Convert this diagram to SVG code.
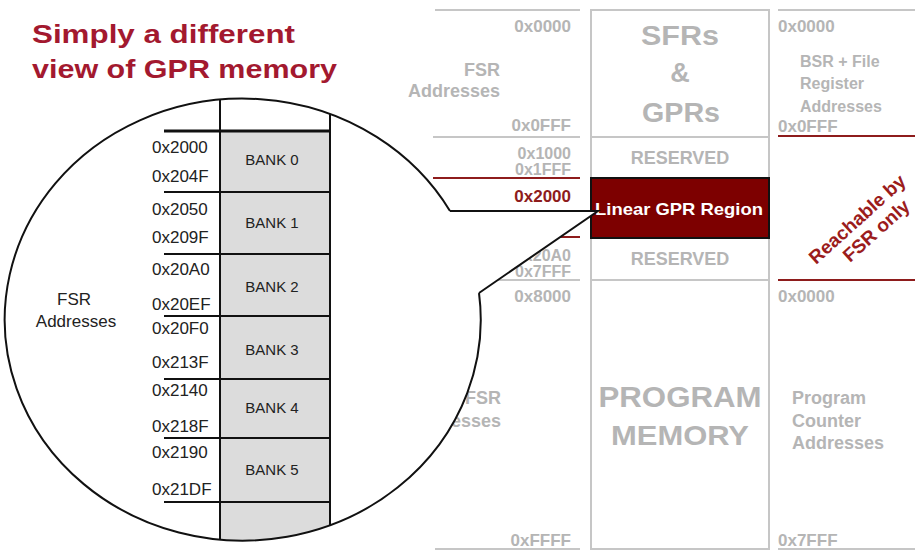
<svg xmlns="http://www.w3.org/2000/svg" width="915" height="551" viewBox="0 0 915 551">
<defs>
<style>
text{font-family:"Liberation Sans",Arial,Helvetica,sans-serif}
.title{font-size:26px;font-weight:bold;fill:#a3192f}
.addr{font-size:17px;fill:#222}
.bank{font-size:15px;fill:#222;text-anchor:middle}
.g{fill:#b5b5b5;font-weight:bold}
.ghex{font-size:17px}
.sm{font-size:16px}
.r{text-anchor:end}
.m{text-anchor:middle}
.gl{stroke:#c6c6c6;stroke-width:2;fill:none}
.rl{stroke:#8e1c1c;stroke-width:2;fill:none}
.box{fill:#fff;stroke:#c6c6c6;stroke-width:2}
.bl{stroke:#111;stroke-width:2;fill:none}
</style>
<clipPath id="lens"><ellipse cx="243" cy="320" rx="238" ry="221"/></clipPath>
</defs>
<rect width="915" height="551" fill="#fff"/>

<g id="title">
<text class="title" x="32" y="43" textLength="263" lengthAdjust="spacingAndGlyphs">Simply a different</text>
<text class="title" x="32" y="78" textLength="305" lengthAdjust="spacingAndGlyphs">view of GPR memory</text>
</g>

<g id="fsr-column">
<line class="gl" x1="435" y1="10" x2="580" y2="10"/>
<line class="gl" x1="433" y1="137" x2="580" y2="137"/>
<line class="rl" x1="433" y1="178" x2="580" y2="178"/>
<line class="rl" x1="435" y1="237" x2="580" y2="237"/>
<line class="gl" x1="435" y1="280" x2="580" y2="280"/>
<line class="gl" x1="435" y1="549" x2="580" y2="549"/>
<text class="g ghex r" x="571" y="32">0x0000</text>
<text class="g r" x="500" y="76" font-size="18">FSR</text>
<text class="g r" x="500" y="97" font-size="18">Addresses</text>
<text class="g ghex r" x="571" y="131">0x0FFF</text>
<text class="g sm r" x="571" y="159">0x1000</text>
<text class="g sm r" x="571" y="175">0x1FFF</text>
<text class="ghex r" x="571" y="202" font-weight="bold" fill="#8e1c1c">0x2000</text>
<text class="g sm r" x="571" y="261">0x20A0</text>
<text class="g sm r" x="571" y="277">0x7FFF</text>
<text class="g ghex r" x="571" y="302">0x8000</text>
<text class="g r" x="501" y="404" font-size="18">FSR</text>
<text class="g r" x="501" y="427" font-size="18">Addresses</text>
<text class="g ghex r" x="571" y="546">0xFFFF</text>
</g>

<g id="memory-column">
<rect class="box" x="591" y="10" width="178" height="127"/>
<rect class="box" x="591" y="137" width="178" height="41"/>
<rect class="box" x="591" y="238" width="178" height="42"/>
<rect class="box" x="591" y="280" width="178" height="269"/>
<text class="g m" x="680" y="45" font-size="27" textLength="78" lengthAdjust="spacingAndGlyphs">SFRs</text>
<text class="g m" x="680" y="82" font-size="27">&amp;</text>
<text class="g m" x="681" y="122" font-size="27" textLength="78" lengthAdjust="spacingAndGlyphs">GPRs</text>
<text class="g m" x="680" y="164" font-size="18">RESERVED</text>
<text class="g m" x="680" y="265" font-size="18">RESERVED</text>
<text class="g m" x="680" y="407" font-size="29" textLength="163" lengthAdjust="spacingAndGlyphs">PROGRAM</text>
<text class="g m" x="680" y="445" font-size="28" textLength="138" lengthAdjust="spacingAndGlyphs">MEMORY</text>
</g>

<g id="linear-gpr-region">
<rect x="591" y="178" width="178" height="60" fill="#7d0000" stroke="#111" stroke-width="2"/>
<text x="679" y="215" font-size="17" font-weight="bold" fill="#fff" text-anchor="middle" textLength="168" lengthAdjust="spacingAndGlyphs">Linear GPR Region</text>
</g>

<g id="bsr-column">
<line class="gl" x1="778" y1="10" x2="915" y2="10"/>
<line class="rl" x1="778" y1="136" x2="915" y2="136"/>
<line class="rl" x1="778" y1="280" x2="915" y2="280"/>
<line class="gl" x1="778" y1="549" x2="915" y2="549"/>
<text class="g ghex" x="778" y="32">0x0000</text>
<text class="g" x="800" y="67" font-size="16">BSR + File</text>
<text class="g" x="800" y="89" font-size="16">Register</text>
<text class="g" x="800" y="112" font-size="16">Addresses</text>
<text class="g ghex" x="778" y="132">0x0FFF</text>
<text class="g ghex" x="778" y="302">0x0000</text>
<text class="g" x="792" y="404" font-size="18">Program</text>
<text class="g" x="792" y="427" font-size="18">Counter</text>
<text class="g" x="792" y="449" font-size="18">Addresses</text>
<text class="g ghex" x="778" y="546">0x7FFF</text>
<g font-size="19" font-weight="bold" fill="#9b1c1c">
<text transform="translate(816,265) rotate(-42)">Reachable by</text>
<text transform="translate(850,263) rotate(-42)">FSR only</text>
</g>
</g>

<g id="magnifier">
<path d="M450,211 L598,211 L479,293 A238 221 0 1 1 450,211 Z" fill="#fff"/>
<g clip-path="url(#lens)">
<rect x="220" y="131" width="110" height="420" fill="#dcdcdc"/>
<line class="bl" x1="220" y1="90" x2="220" y2="551"/>
<line class="bl" x1="330" y1="90" x2="330" y2="551"/>
</g>
<text class="addr" x="74" y="305" text-anchor="middle">FSR</text>
<text class="addr" x="76" y="327" text-anchor="middle">Addresses</text>
</g>

<g id="bank-0">
<line x1="164" y1="131" x2="331" y2="131" stroke="#111" stroke-width="3"/>
<text class="addr" x="152" y="153">0x2000</text>
<text class="addr" x="152" y="182">0x204F</text>
<text class="bank" x="272" y="165">BANK 0</text>
</g>
<g id="bank-1">
<line class="bl" x1="164" y1="192" x2="331" y2="192"/>
<text class="addr" x="152" y="215">0x2050</text>
<text class="addr" x="152" y="243">0x209F</text>
<text class="bank" x="272" y="228">BANK 1</text>
</g>
<g id="bank-2">
<line class="bl" x1="164" y1="254" x2="331" y2="254"/>
<text class="addr" x="152" y="275">0x20A0</text>
<text class="addr" x="152" y="310">0x20EF</text>
<text class="bank" x="272" y="292">BANK 2</text>
</g>
<g id="bank-3">
<line class="bl" x1="164" y1="316" x2="331" y2="316"/>
<text class="addr" x="152" y="334">0x20F0</text>
<text class="addr" x="152" y="368">0x213F</text>
<text class="bank" x="272" y="355">BANK 3</text>
</g>
<g id="bank-4">
<line class="bl" x1="164" y1="379" x2="331" y2="379"/>
<text class="addr" x="152" y="396">0x2140</text>
<text class="addr" x="152" y="432">0x218F</text>
<text class="bank" x="272" y="413">BANK 4</text>
</g>
<g id="bank-5">
<line class="bl" x1="164" y1="438" x2="331" y2="438"/>
<text class="addr" x="152" y="458">0x2190</text>
<text class="addr" x="152" y="495">0x21DF</text>
<text class="bank" x="272" y="475">BANK 5</text>
</g>
<g id="bank-end">
<line class="bl" x1="164" y1="502" x2="331" y2="502"/>
</g>

<g id="connectors">
<path d="M450,211 A238 221 0 1 0 479,293" fill="none" stroke="#111" stroke-width="2"/>
<polyline points="450,211 598,211 479,293" fill="none" stroke="#111" stroke-width="2"/>
</g>
</svg>
